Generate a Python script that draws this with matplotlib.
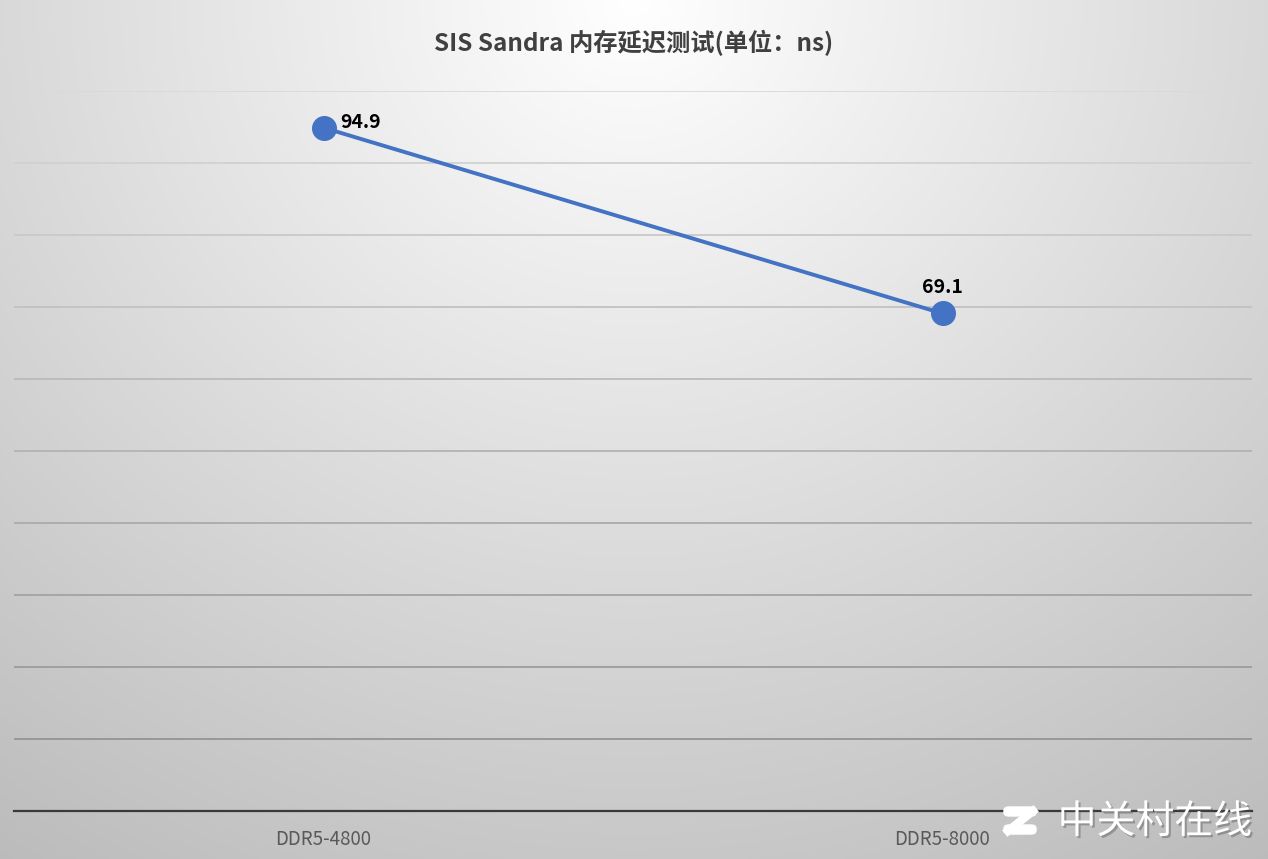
import numpy as np
import matplotlib
matplotlib.use('Agg')
from matplotlib import pyplot as plt
import matplotlib.patheffects as pe
from matplotlib.patches import FancyBboxPatch

plt.rcParams['font.family'] = ['Noto Sans CJK SC', 'DejaVu Sans']

categories = ['DDR5-4800', 'DDR5-8000']
latency = [94.9, 69.1]
title = 'SIS Sandra 内存延迟测试(单位：ns)'

W, H = 1268, 859
fig = plt.figure(figsize=(W / 100, H / 100), dpi=100)

# radial gradient background, light at top middle
bg = fig.add_axes([0, 0, 1, 1], zorder=-10)
yy, xx = np.mgrid[0:H, 0:W]
d = np.sqrt(((xx - W / 2) / (W * 0.8)) ** 2 + (yy / (H * 1.1)) ** 2)
shade = 1.0 - 0.24 * np.clip(d, 0, 1.2)
bg.imshow(np.dstack([shade] * 3), aspect='auto', extent=[0, 1, 0, 1])
bg.axis('off')

ax = fig.add_axes([14 / W, 48 / H, 1238 / W, 720 / H])
ax.patch.set_alpha(0)
x = np.arange(len(categories))

# gridlines get darker towards the bottom
for g in np.arange(10, 101, 10):
    c = 0.55 + 0.3 * g / 100
    ax.axhline(g, color=(c, c, c), lw=1.3, zorder=1)

ax.plot(x, latency, color='#4472C4', lw=2.8, marker='o', ms=17,
        markerfacecolor='#4472C4', markeredgecolor='#4472C4', zorder=3)

ax.annotate(f'{latency[0]}', (x[0], latency[0]), xytext=(12, 4), textcoords='offset points',
            fontsize=14, fontweight='bold', color='black', va='center', ha='left')
ax.annotate(f'{latency[1]}', (x[1], latency[1]), xytext=(0, 19), textcoords='offset points',
            fontsize=14, fontweight='bold', color='black', va='center', ha='center')

ax.set_xlim(-0.5, 1.5)
ax.set_ylim(0, 100)
ax.set_yticks([])
ax.set_xticks(x)
ax.set_xticklabels(categories, fontsize=13.5, color='#595959')
ax.tick_params(axis='x', length=0, pad=13)
for s in ['top', 'left', 'right']:
    ax.spines[s].set_visible(False)
ax.spines['bottom'].set_color('#3a3a3a')
ax.spines['bottom'].set_linewidth(1.6)

fig.text(0.5, 1 - 43 / H, title, ha='center', va='center', fontsize=17.5,
         fontweight='bold', color='#404040')

# watermark
shadow = [pe.withSimplePatchShadow(offset=(1.5, -1.5), alpha=0.4)]
fig.text(1252 / W, 1 - 822 / H, '中关村在线', ha='right', va='center', fontsize=28,
         color='white', path_effects=shadow)
for yb in (808, 826):
    fig.patches.append(FancyBboxPatch((1004 / W, 1 - (yb + 8) / H), 32 / W, 9 / H,
                                      boxstyle='round,pad=0,rounding_size=0.004',
                                      transform=fig.transFigure, color='white', zorder=5))
fig.lines.append(plt.Line2D([1033 / W, 1008 / W], [1 - 811 / H, 1 - 831 / H],
                            transform=fig.transFigure, color='white', lw=6, zorder=5))

fig.savefig('out.png', dpi=100)
